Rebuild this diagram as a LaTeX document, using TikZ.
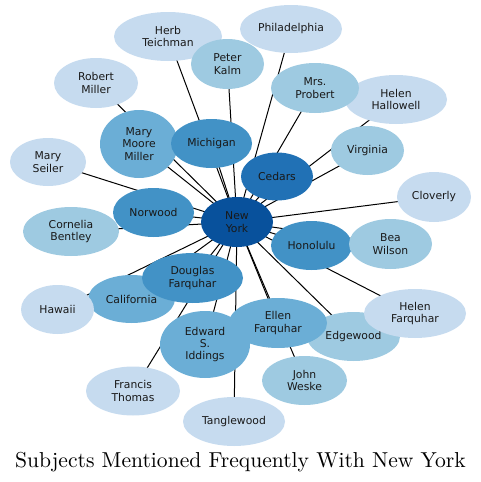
\documentclass[tikz,border=0pt]{standalone}
\usepackage{fontspec}
\usepackage{tikz}
\usetikzlibrary{shapes.geometric}
\usetikzlibrary{backgrounds}
\newfontfamily\labelfont{DejaVu Sans}
\definecolor{blueA}{HTML}{08519C}
\definecolor{blueB}{HTML}{2171B5}
\definecolor{blueC}{HTML}{4292C6}
\definecolor{blueD}{HTML}{6BAED6}
\definecolor{blueE}{HTML}{9ECAE1}
\definecolor{blueF}{HTML}{C6DBEF}

\begin{document}
\begin{tikzpicture}[
x=1pt, y=-1pt,
every node/.style={ellipse, inner sep=0, align=center, text=black!90,
  font=\labelfont\fontsize{10.8}{12.4}\selectfont},
sz/.style 2 args={minimum width=#1pt, minimum height=#2pt},
lvA/.style={fill=blueA}, lvB/.style={fill=blueB}, lvC/.style={fill=blueC},
lvD/.style={fill=blueD}, lvE/.style={fill=blueE}, lvF/.style={fill=blueF},
link/.style={line width=1pt, black}
]
\useasboundingbox (0,0) rectangle (481,482);
% outer ring, lightest first
\node[lvF, sz={108}{49}] (herb) at (168,36.5) {Herb\\Teichman};
\node[lvF, sz={102}{48}] (philly) at (291,29) {Philadelphia};
\node[lvF, sz={84}{50}] (rmiller) at (96,83) {Robert\\Miller};
\node[lvF, sz={102}{49}] (hallowell) at (396,99.5) {Helen\\Hallowell};
\node[lvF, sz={76}{48}] (seiler) at (48,162) {Mary\\Seiler};
\node[lvF, sz={74}{50}] (cloverly) at (434,197) {Cloverly};
\node[lvE, sz={96}{49}] (bentley) at (71,231.5) {Cornelia\\Bentley};
\node[lvE, sz={73}{50}] (kalm) at (227.5,64) {Peter\\Kalm};
\node[lvE, sz={88}{50}] (probert) at (315,88) {Mrs.\\Probert};
\node[lvE, sz={73}{49}] (virginia) at (367.5,150.5) {Virginia};
\node[lvD, sz={78}{68}] (mmiller) at (139,144) {Mary\\Moore\\Miller};
\node[lvC, sz={81}{49}] (michigan) at (211.5,143.5) {Michigan};
\node[lvC, sz={81}{49}] (norwood) at (153.5,212.5) {Norwood};
\node[lvB, sz={72}{48}] (cedars) at (277,176.5) {Cedars};
\node[lvC, sz={81}{49}] (honolulu) at (311.5,245.5) {Honolulu};
\node[lvE, sz={83}{50}] (wilson) at (390.5,244) {Bea\\Wilson};
\node[lvD, sz={87}{48}] (california) at (131.5,299) {California};
\node[lvF, sz={73}{49}] (hawaii) at (57.5,309.5) {Hawaii};
\node[lvC, sz={101}{50}] (douglas) at (192.5,278) {Douglas\\Farquhar};
\node[lvD, sz={90}{67}] (iddings) at (205,344.5) {Edward\\S.\\Iddings};
\node[lvE, sz={93}{49}] (edgewood) at (353.5,336.5) {Edgewood};
\node[lvD, sz={98}{50}] (ellen) at (278,323) {Ellen\\Farquhar};
\node[lvF, sz={102}{49}] (hfarquhar) at (415,313.5) {Helen\\Farquhar};
\node[lvE, sz={85}{49}] (weske) at (304.5,380.5) {John\\Weske};
\node[lvF, sz={94}{49}] (thomas) at (133,391) {Francis\\Thomas};
\node[lvF, sz={102}{49}] (tanglewood) at (234,421.5) {Tanglewood};
% centre
\node[lvA, sz={72}{50}] (ny) at (237,222) {New\\York};
% links behind every ellipse
\begin{scope}[on background layer]
\foreach \n in {herb,philly,rmiller,hallowell,seiler,cloverly,bentley,kalm,
  probert,virginia,mmiller,michigan,norwood,cedars,honolulu,wilson,california,
  hawaii,douglas,iddings,edgewood,ellen,hfarquhar,weske,thomas,tanglewood}
  \draw[link] (ny.center) -- (\n.center);
\end{scope}
\node[rectangle, font=\fontsize{10}{12}\selectfont, text=black, anchor=base] (title) at (240.5,467)
  {\scalebox{2.16}{Subjects Mentioned Frequently With New York}};
\end{tikzpicture}
\end{document}
